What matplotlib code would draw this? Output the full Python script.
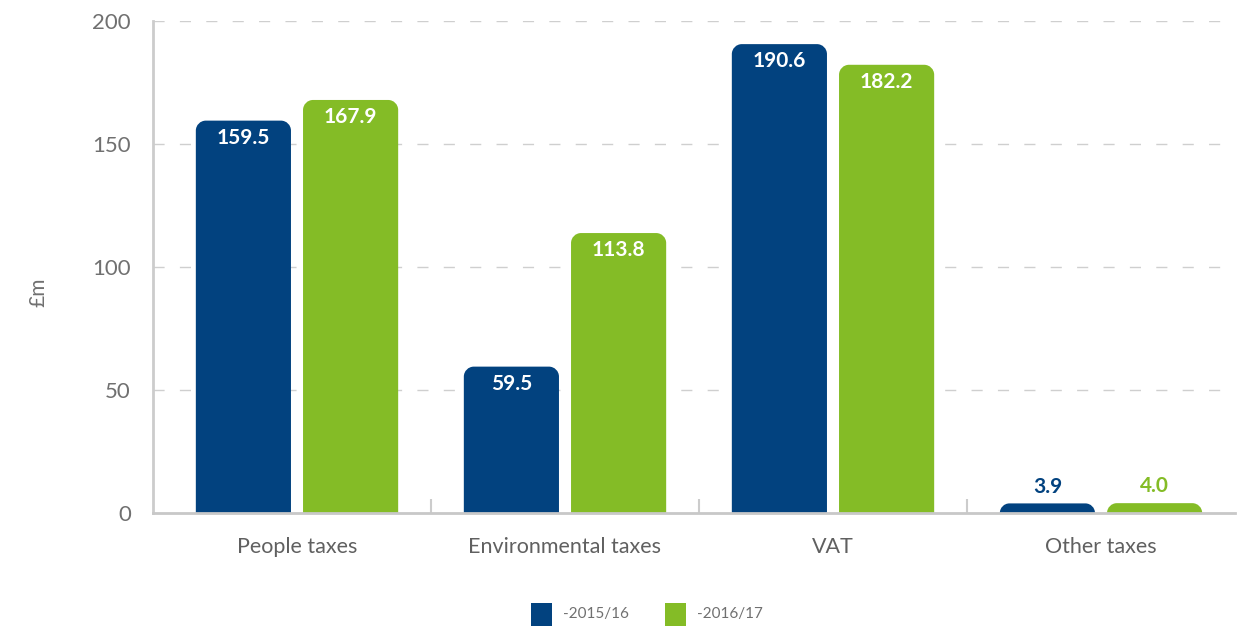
import matplotlib
matplotlib.use("Agg")
import matplotlib.pyplot as plt
from matplotlib.path import Path
from matplotlib.patches import PathPatch, Rectangle
import numpy as np

categories = ["People taxes", "Environmental taxes", "VAT", "Other taxes"]
series_names = ["-2015/16", "-2016/17"]
values_2015 = [159.5, 59.5, 190.6, 3.9]
values_2016 = [167.9, 113.8, 182.2, 4.0]
yticks = [0, 50, 100, 150, 200]

BLUE = "#02427f"
GREEN = "#84bc26"
GRAY_TXT = "#707070"
GRID = "#cfcfcf"

plt.rcParams['font.family'] = ['Lato', 'DejaVu Sans']

W, H = 1246, 626
fig = plt.figure(figsize=(W / 100, H / 100), dpi=100)
left_px, right_px, top_px, bot_px = 153, 1235, 21, 513
ax = fig.add_axes([left_px / W, (H - bot_px) / H, (right_px - left_px) / W, (bot_px - top_px) / H])

cat_px = 268.0
x_left = -0.5 - (163 - left_px) / cat_px
ax.set_xlim(x_left, 3.5)
ax.set_ylim(0, 200)

px_per_x = cat_px
px_per_y = (bot_px - top_px) / 200.0


def rounded_bar(ax, xc, width, h, color, r_px=10):
    r_px_eff = min(r_px, h * px_per_y, width * px_per_x / 2)
    rx = r_px_eff / px_per_x
    ry = r_px_eff / px_per_y
    x0, x1 = xc - width / 2, xc + width / 2
    k = 0.5523
    verts = [
        (x0, 0), (x0, h - ry),
        (x0, h - ry + k * ry), (x0 + rx - k * rx, h), (x0 + rx, h),
        (x1 - rx, h),
        (x1 - rx + k * rx, h), (x1, h - ry + k * ry), (x1, h - ry),
        (x1, 0), (x0, 0),
    ]
    codes = [Path.MOVETO, Path.LINETO,
             Path.CURVE4, Path.CURVE4, Path.CURVE4,
             Path.LINETO,
             Path.CURVE4, Path.CURVE4, Path.CURVE4,
             Path.LINETO, Path.CLOSEPOLY]
    ax.add_patch(PathPatch(Path(verts, codes), facecolor=color, edgecolor='none', zorder=3))


x = np.arange(len(categories))
bw = 0.355
off = 0.2
for vals, color, sign in [(values_2015, BLUE, -1), (values_2016, GREEN, 1)]:
    for xi, v in zip(x, vals):
        xc = xi + sign * off
        rounded_bar(ax, xc, bw, v, color)
        if v > 20:
            ax.annotate(f"{v:.1f}", (xc, v), xytext=(0, -12.5), textcoords='offset points',
                        ha='center', va='center', color='white', fontsize=15,
                        fontweight='bold', zorder=4)
        else:
            ax.annotate(f"{v:.1f}", (xc, v), xytext=(0, 12), textcoords='offset points',
                        ha='center', va='center', color=color, fontsize=15,
                        fontweight='bold', zorder=4)

# grid
ax.set_yticks(yticks)
ax.set_yticklabels([str(t) for t in yticks])
for t in yticks[1:]:
    ax.axhline(t, color=GRID, lw=1.0, dashes=(8, 11), zorder=1)

ax.tick_params(axis='y', length=0, pad=16, labelsize=16, labelcolor=GRAY_TXT)
ax.set_xticks(x)
ax.set_xticklabels(categories)
ax.tick_params(axis='x', which='major', length=0, pad=17, labelsize=15.5, labelcolor="#606060")
ax.set_xticks([0.5, 1.5, 2.5], minor=True)
ax.tick_params(axis='x', which='minor', direction='in', length=10, width=1.5, color="#cccccc")

for s in ['top', 'right']:
    ax.spines[s].set_visible(False)
ax.spines['left'].set_color("#cccccc")
ax.spines['left'].set_linewidth(2)
ax.spines['bottom'].set_color("#c8c8c8")
ax.spines['bottom'].set_linewidth(2)
ax.spines['left'].set_zorder(5)
ax.spines['bottom'].set_zorder(5)

fig.text(38 / W, 1 - 292 / H, "£m", rotation=90, ha='center', va='center',
         fontsize=15, color=GRAY_TXT)

# legend
for name, color, lx in [(series_names[0], BLUE, 531), (series_names[1], GREEN, 665)]:
    fig.patches.append(Rectangle((lx / W, 1 - 627 / H), 21 / W, 24 / H,
                                 transform=fig.transFigure, facecolor=color,
                                 edgecolor='none'))
    fig.text((lx + 32) / W, 1 - 614 / H, name, ha='left', va='center',
             fontsize=11, color=GRAY_TXT)

fig.savefig("out.png", dpi=100)
